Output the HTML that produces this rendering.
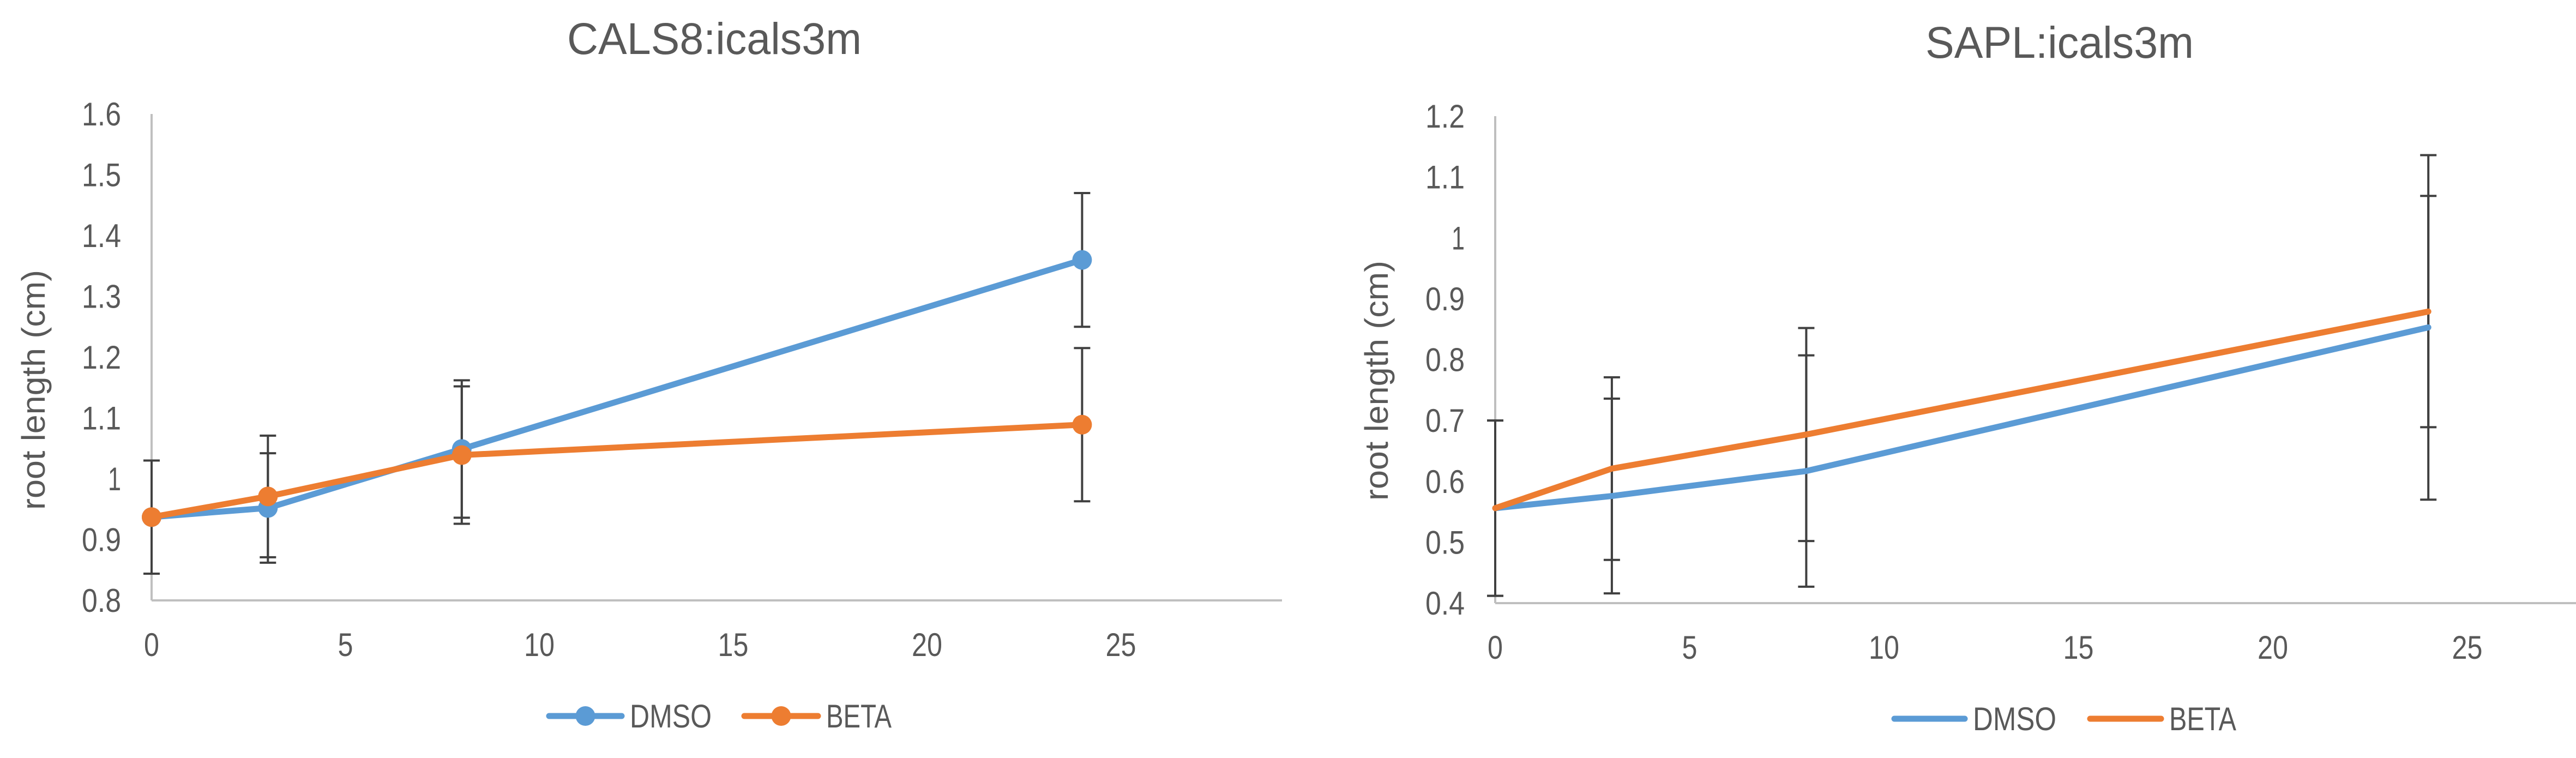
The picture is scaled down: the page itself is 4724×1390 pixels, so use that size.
<!DOCTYPE html>
<html><head><meta charset="utf-8"><style>
html,body{margin:0;padding:0;background:#fff;}
svg text{font-family:"Liberation Sans",sans-serif;fill:#595959;}
</style></head><body>
<svg id="s" width="4724" height="1385" viewBox="0 0 4724 1385" xmlns="http://www.w3.org/2000/svg"></svg>
<script>
// Left chart data
const leftX = [0, 3, 8, 24];
const leftDmso = [0.937, 0.952, 1.049, 1.36];
const leftDmsoErr = [0.093, 0.09, 0.113, 0.11];
const leftBeta = [0.937, 0.971, 1.039, 1.089];
const leftBetaErr = [0.093, 0.1, 0.113, 0.126];
const leftYTicks = ["0.8","0.9","1","1.1","1.2","1.3","1.4","1.5","1.6"];
const leftXTicks = ["0","5","10","15","20","25"];
// Right chart data
const rightX = [0, 3, 8, 24];
const rightDmso = [0.556, 0.576, 0.617, 0.853];
const rightDmsoErr = [0.144, 0.16, 0.19, 0.283];
const rightBeta = [0.556, 0.621, 0.677, 0.879];
const rightBetaErr = [0.144, 0.15, 0.175, 0.19];
const rightYTicks = ["0.4","0.5","0.6","0.7","0.8","0.9","1","1.1","1.2"];
const rightXTicks = ["0","5","10","15","20","25"];

const NS = "http://www.w3.org/2000/svg";
const svg = document.getElementById('s');
function mk(tag, attrs, parent){
  const e = document.createElementNS(NS, tag);
  for (const k in attrs) e.setAttribute(k, attrs[k]);
  (parent||svg).appendChild(e);
  return e;
}
const BLUE = "#5b9bd5", ORANGE = "#ed7d31", ERR = "#404040", AX = "#bfbfbf";

function chart(cfg){
  const g = mk('g', {});
  
  
  const ymin = parseFloat(cfg.yTicks[0]), ymax = parseFloat(cfg.yTicks[cfg.yTicks.length-1]);
  const xs = v => cfg.x0 + v * cfg.pxPerUnit;
  const ys = v => cfg.yBot - (v - ymin) / (ymax - ymin) * (cfg.yBot - cfg.yTop);
  const t = mk('text', {x: cfg.titleX, y: cfg.titleY, 'text-anchor':'middle', 'font-size':82, textLength: cfg.titleW, lengthAdjust:'spacingAndGlyphs'}, g);
  t.textContent = cfg.title;
  
  
  const ya = mk('line', {x1: cfg.x0, y1: cfg.yTop, x2: cfg.x0, y2: cfg.yBot, stroke: AX, 'stroke-width': 4}, g);
  
  
  const xa = mk('line', {x1: cfg.x0, y1: cfg.yBot, x2: cfg.xEnd, y2: cfg.yBot, stroke: AX, 'stroke-width': 4}, g);
  
  
  cfg.yTicks.forEach(l => {
    const tt = mk('text', {x: cfg.x0 - 56, y: ys(parseFloat(l)) + 21, 'text-anchor':'end', 'font-size':60, textLength: l.length>1? l.length*24: 24, lengthAdjust:'spacingAndGlyphs'}, g);
    tt.textContent = l;
    
    
  });
  cfg.xTicks.forEach(l => {
    const tt = mk('text', {x: xs(parseFloat(l)), y: cfg.yBot + 102, 'text-anchor':'middle', 'font-size':60, textLength: l.length*28, lengthAdjust:'spacingAndGlyphs'}, g);
    tt.textContent = l;
    
    
  });
  const at = mk('text', {x: 0, y: 0, 'text-anchor':'middle', 'font-size':60, textLength: 440, lengthAdjust:'spacingAndGlyphs', transform:`translate(${cfg.atX},${cfg.atY}) rotate(-90)`}, g);
  at.textContent = 'root length (cm)';
  
  
  const series = [[cfg.dmso, cfg.dmsoErr, BLUE, 'dmso'], [cfg.beta, cfg.betaErr, ORANGE, 'beta']];
  series.forEach(([vals, errs, col, nm]) => {
    vals.forEach((v, i) => {
      const x = xs(cfg.xv[i]);
      const eg = mk('g', {stroke: ERR, 'stroke-width': 4}, g);
      
      
      mk('line', {x1: x, y1: ys(v + errs[i]), x2: x, y2: ys(v - errs[i])}, eg);
      mk('line', {x1: x - 15, y1: ys(v + errs[i]), x2: x + 15, y2: ys(v + errs[i])}, eg);
      mk('line', {x1: x - 15, y1: ys(v - errs[i]), x2: x + 15, y2: ys(v - errs[i])}, eg);
    });
  });
  series.forEach(([vals, errs, col, nm]) => {
    const pts = vals.map((v, i) => xs(cfg.xv[i]) + ',' + ys(v)).join(' ');
    const pl = mk('polyline', {points: pts, fill: 'none', stroke: col, 'stroke-width': 11, 'stroke-linejoin':'round', 'stroke-linecap':'round'}, g);
    
    
    if (cfg.markers) {
      vals.forEach((v, i) => {
        const c = mk('circle', {cx: xs(cfg.xv[i]), cy: ys(v), r: 18, fill: col}, g);
        
        
      });
    }
  });
  const leg = [['DMSO', BLUE, cfg.legD], ['BETA', ORANGE, cfg.legB]];
  leg.forEach(([lab, col, p]) => {
    const lg = mk('g', {}, g);
    
    
    mk('line', {x1: p[0], y1: cfg.legY, x2: p[1], y2: cfg.legY, stroke: col, 'stroke-width': 11, 'stroke-linecap':'round'}, lg);
    if (cfg.markers) mk('circle', {cx: (p[0]+p[1])/2, cy: cfg.legY, r: 18, fill: col}, lg);
    const tx = mk('text', {x: p[2], y: cfg.legY + 21, 'font-size':60, textLength: p[3], lengthAdjust:'spacingAndGlyphs'}, lg);
    tx.textContent = lab;
  });
}

chart({name:'cals8-chart', title:'CALS8:icals3m', titleX:1310, titleY:99, titleW:540,
  x0:278, pxPerUnit:71.1, xEnd:2351, yTop:209, yBot:1101,
  yTicks:leftYTicks, xTicks:leftXTicks, xv:leftX,
  dmso:leftDmso, dmsoErr:leftDmsoErr, beta:leftBeta, betaErr:leftBetaErr,
  atX:82, atY:715, markers:true, legY:1313,
  legD:[1007,1140,1155,150], legB:[1365,1500,1515,120]});

chart({name:'sapl-chart', title:'SAPL:icals3m', titleX:3777, titleY:106, titleW:492,
  x0:2742, pxPerUnit:71.3, xEnd:4724, yTop:213, yBot:1106,
  yTicks:rightYTicks, xTicks:rightXTicks, xv:rightX,
  dmso:rightDmso, dmsoErr:rightDmsoErr, beta:rightBeta, betaErr:rightBetaErr,
  atX:2545, atY:698, markers:false, legY:1318,
  legD:[3474,3603,3618,153], legB:[3833,3963,3978,123]});
</script>
</body></html>
